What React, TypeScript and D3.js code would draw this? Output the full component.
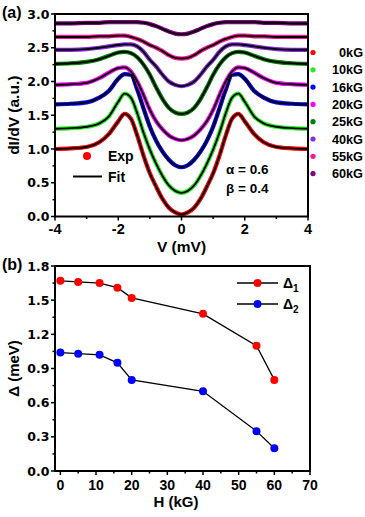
import React from "react";
import * as d3 from "d3";

// ---------- Panel (a) data ----------
const V_GRID = [-4, -3.5, -3, -2.6, -2.3, -2.0, -1.8, -1.6, -1.4, -1.2, -1.0, -0.8, -0.6, -0.4, -0.2, 0,
  0.2, 0.4, 0.6, 0.8, 1.0, 1.2, 1.4, 1.6, 1.8, 2.0, 2.3, 2.6, 3, 3.5, 4];

const FIELDS = ["0kG", "10kG", "16kG", "20kG", "25kG", "40kG", "55kG", "60kG"];
const FIELD_COLORS = ["#ff0000", "#22ee22", "#0000ff", "#ff00ff", "#008000", "#8a2be2", "#ff1493", "#800080"];

const C_0kG = [1.00, 1.01, 1.03, 1.10, 1.22, 1.41, 1.52, 1.45, 1.20, 0.90, 0.64, 0.44, 0.26, 0.13, 0.06, 0.03,
  0.06, 0.13, 0.26, 0.44, 0.64, 0.90, 1.20, 1.45, 1.52, 1.41, 1.22, 1.10, 1.03, 1.01, 1.00];
const C_10kG = [1.30, 1.31, 1.33, 1.38, 1.48, 1.70, 1.82, 1.76, 1.53, 1.24, 0.99, 0.78, 0.60, 0.46, 0.38, 0.35,
  0.38, 0.46, 0.60, 0.78, 0.99, 1.24, 1.53, 1.76, 1.82, 1.70, 1.48, 1.38, 1.33, 1.31, 1.30];
const C_16kG = [1.66, 1.67, 1.69, 1.76, 1.86, 2.04, 2.11, 2.10, 1.88, 1.60, 1.33, 1.12, 0.96, 0.84, 0.76, 0.73,
  0.76, 0.84, 0.96, 1.12, 1.33, 1.60, 1.88, 2.10, 2.11, 2.04, 1.86, 1.76, 1.69, 1.67, 1.66];
const C_20kG = [1.95, 1.96, 1.98, 2.05, 2.13, 2.20, 2.21, 2.15, 2.00, 1.80, 1.58, 1.41, 1.29, 1.20, 1.15, 1.13,
  1.15, 1.20, 1.29, 1.41, 1.58, 1.80, 2.00, 2.15, 2.21, 2.20, 2.13, 2.05, 1.98, 1.96, 1.95];
const C_25kG = [2.26, 2.27, 2.29, 2.33, 2.38, 2.43, 2.44, 2.42, 2.36, 2.25, 2.10, 1.91, 1.74, 1.61, 1.54, 1.52,
  1.54, 1.61, 1.74, 1.91, 2.10, 2.25, 2.36, 2.42, 2.44, 2.43, 2.38, 2.33, 2.29, 2.27, 2.26];
const C_40kG = [2.47, 2.47, 2.48, 2.50, 2.52, 2.54, 2.55, 2.55, 2.52, 2.44, 2.32, 2.22, 2.10, 2.00, 1.95, 1.93,
  1.95, 2.00, 2.10, 2.22, 2.32, 2.44, 2.52, 2.55, 2.55, 2.54, 2.52, 2.50, 2.48, 2.47, 2.47];
const C_55kG = [2.66, 2.66, 2.66, 2.67, 2.67, 2.68, 2.68, 2.66, 2.63, 2.59, 2.54, 2.50, 2.45, 2.39, 2.35, 2.34,
  2.35, 2.39, 2.45, 2.50, 2.54, 2.59, 2.63, 2.66, 2.68, 2.68, 2.67, 2.67, 2.66, 2.66, 2.66];
const C_60kG = [2.86, 2.86, 2.87, 2.87, 2.88, 2.88, 2.88, 2.88, 2.88, 2.87, 2.85, 2.82, 2.78, 2.74, 2.71, 2.70,
  2.71, 2.74, 2.78, 2.82, 2.85, 2.87, 2.88, 2.88, 2.88, 2.88, 2.88, 2.87, 2.87, 2.86, 2.86];
const CURVES = [C_0kG, C_10kG, C_16kG, C_20kG, C_25kG, C_40kG, C_55kG, C_60kG];

const A_XTICKS = [-4, -2, 0, 2, 4];
const A_YTICKS = [0.0, 0.5, 1.0, 1.5, 2.0, 2.5, 3.0];

// ---------- Panel (b) data ----------
const H_FIELD = [0, 5, 11, 16, 20, 40, 55, 60];
const DELTA1 = [1.67, 1.66, 1.65, 1.61, 1.52, 1.38, 1.10, 0.80];
const DELTA2 = [1.04, 1.03, 1.02, 0.95, 0.80, 0.70, 0.35, 0.20];
const B_XTICKS = [0, 10, 20, 30, 40, 50, 60, 70];
const B_YTICKS = [0.0, 0.3, 0.6, 0.9, 1.2, 1.5, 1.8];

const FONT = "'Liberation Sans', Arial, sans-serif";
const WIDE_FONT = "'DejaVu Sans', sans-serif";

export default function App() {
  // panel a scales
  const ax = d3.scaleLinear().domain([-4, 4]).range([55, 308]);
  const ay = d3.scaleLinear().domain([0, 3]).range([216.5, 14]);
  // panel b scales
  const bx = d3.scaleLinear().domain([-1.5, 70]).range([55, 310]);
  const by = d3.scaleLinear().domain([0, 1.8]).range([471, 266]);

  const lineA = d3.line<number>()
    .x((_, i) => ax(V_GRID[i]))
    .y((d) => ay(d))
    .curve(d3.curveMonotoneX);

  const lineB = d3.line<number>()
    .x((_, i) => bx(H_FIELD[i]))
    .y((d) => by(d));

  const aMinorX = d3.range(-4, 4.01, 1).filter((v) => !A_XTICKS.includes(v));
  const aMinorY = d3.range(0.25, 3, 0.5);
  const bMinorX = d3.range(5, 70, 10);
  const bMinorY = d3.range(0.15, 1.8, 0.3);

  const tickStyle = { stroke: "#000", strokeWidth: 1.5 };
  const bold: React.CSSProperties = { fontFamily: FONT, fontWeight: 700, fontSize: 14 };
  const yLab: React.CSSProperties = { fontFamily: WIDE_FONT, fontWeight: 700, fontSize: 12.5 };
  const xLab: React.CSSProperties = { fontFamily: FONT, fontWeight: 700, fontSize: 14.5 };

  return (
    <svg width={365} height={517} style={{ position: "absolute", left: 0, top: 0, background: "#fff" }}>
      {/* ================= Panel (a) ================= */}
      <text x={2} y={18} style={{ ...bold, fontSize: 16 }}>(a)</text>
      {CURVES.map((c, k) => (
        <path key={"e" + k} d={lineA(c) || ""} fill="none" stroke={FIELD_COLORS[k]} strokeWidth={4.2} />
      ))}
      {CURVES.map((c, k) => (
        <path key={"f" + k} d={lineA(c) || ""} fill="none" stroke="#000" strokeWidth={1.9} />
      ))}
      <rect x={ax(-4)} y={ay(3)} width={ax(4) - ax(-4)} height={ay(0) - ay(3)} fill="none" stroke="#000" strokeWidth={2} />
      {A_XTICKS.map((v) => (
        <g key={"axt" + v}>
          <line x1={ax(v)} x2={ax(v)} y1={ay(0)} y2={ay(0) + 4} {...tickStyle} />
          <text x={ax(v)} y={ay(0) + 17} textAnchor="middle" style={xLab}>{v}</text>
        </g>
      ))}
      {aMinorX.map((v) => (
        <line key={"axm" + v} x1={ax(v)} x2={ax(v)} y1={ay(0)} y2={ay(0) + 2.5} {...tickStyle} />
      ))}
      {A_YTICKS.map((v) => (
        <g key={"ayt" + v}>
          <line x1={ax(-4) - 4} x2={ax(-4)} y1={ay(v)} y2={ay(v)} {...tickStyle} />
          <text x={ax(-4) - 5.5} y={ay(v) + 4.5} textAnchor="end" style={yLab}>{v.toFixed(1)}</text>
        </g>
      ))}
      {aMinorY.map((v) => (
        <line key={"aym" + v} x1={ax(-4) - 2.5} x2={ax(-4)} y1={ay(v)} y2={ay(v)} {...tickStyle} />
      ))}
      <text x={ax(0)} y={252} textAnchor="middle" style={{ ...bold, fontSize: 15.5 }}>V (mV)</text>
      <text transform={`translate(19,${(ay(0) + ay(3)) / 2}) rotate(-90)`} textAnchor="middle" style={{ ...bold, fontSize: 15.5 }}>dI/dV (a.u.)</text>

      {/* legend Exp / Fit */}
      <circle cx={87} cy={156} r={4} fill="#ff0000" />
      <text x={108} y={161} style={bold}>Exp</text>
      <line x1={73} x2={102} y1={176.5} y2={176.5} stroke="#000" strokeWidth={2} />
      <text x={108} y={181.5} style={bold}>Fit</text>
      <text x={226} y={174} style={{ ...bold, fontSize: 13.5 }}>α = 0.6</text>
      <text x={226} y={193} style={{ ...bold, fontSize: 13.5 }}>β = 0.4</text>

      {/* field legend */}
      {FIELDS.map((f, k) => (
        <g key={"lg" + f}>
          <circle cx={313} cy={52.5 + k * 17.3} r={2.6} fill={FIELD_COLORS[k]} />
          <text x={363} y={57 + k * 17.3} textAnchor="end" style={{ ...bold, fontSize: 12.7 }}>{f}</text>
        </g>
      ))}

      {/* ================= Panel (b) ================= */}
      <text x={2} y={270} style={{ ...bold, fontSize: 16 }}>(b)</text>
      <rect x={bx(-1.5)} y={by(1.8)} width={bx(70) - bx(-1.5)} height={by(0) - by(1.8)} fill="none" stroke="#000" strokeWidth={2} />
      {B_XTICKS.map((v) => (
        <g key={"bxt" + v}>
          <line x1={bx(v)} x2={bx(v)} y1={by(0)} y2={by(0) + 4} {...tickStyle} />
          <text x={bx(v)} y={by(0) + 19} textAnchor="middle" style={{ ...xLab, fontSize: 14 }}>{v}</text>
        </g>
      ))}
      {bMinorX.map((v) => (
        <line key={"bxm" + v} x1={bx(v)} x2={bx(v)} y1={by(0)} y2={by(0) + 2.5} {...tickStyle} />
      ))}
      {B_YTICKS.map((v) => (
        <g key={"byt" + v}>
          <line x1={bx(-1.5) - 4} x2={bx(-1.5)} y1={by(v)} y2={by(v)} {...tickStyle} />
          <text x={bx(-1.5) - 5.5} y={by(v) + 4.5} textAnchor="end" style={yLab}>{v.toFixed(1)}</text>
        </g>
      ))}
      {bMinorY.map((v) => (
        <line key={"bym" + v} x1={bx(-1.5) - 2.5} x2={bx(-1.5)} y1={by(v)} y2={by(v)} {...tickStyle} />
      ))}
      <text x={176} y={507} textAnchor="middle" style={{ ...bold, fontSize: 15 }}>H (kG)</text>
      <text transform={`translate(19,${(by(0) + by(1.8)) / 2}) rotate(-90)`} textAnchor="middle" style={{ ...bold, fontSize: 15 }}>Δ (meV)</text>

      <path d={lineB(DELTA1) || ""} fill="none" stroke="#000" strokeWidth={1.3} />
      <path d={lineB(DELTA2) || ""} fill="none" stroke="#000" strokeWidth={1.3} />
      {DELTA1.map((d, i) => (
        <circle key={"d1" + i} cx={bx(H_FIELD[i])} cy={by(d)} r={4} fill="#ff0000" />
      ))}
      {DELTA2.map((d, i) => (
        <circle key={"d2" + i} cx={bx(H_FIELD[i])} cy={by(d)} r={4} fill="#0000ff" />
      ))}

      {/* legend b */}
      <line x1={237} x2={278} y1={283} y2={283} stroke="#000" strokeWidth={1.3} />
      <circle cx={257.5} cy={283} r={4} fill="#ff0000" />
      <text x={283} y={288} style={bold}>Δ<tspan dy={4} fontSize={10}>1</tspan></text>
      <line x1={237} x2={278} y1={304} y2={304} stroke="#000" strokeWidth={1.3} />
      <circle cx={257.5} cy={304} r={4} fill="#0000ff" />
      <text x={283} y={309} style={bold}>Δ<tspan dy={4} fontSize={10}>2</tspan></text>
    </svg>
  );
}
